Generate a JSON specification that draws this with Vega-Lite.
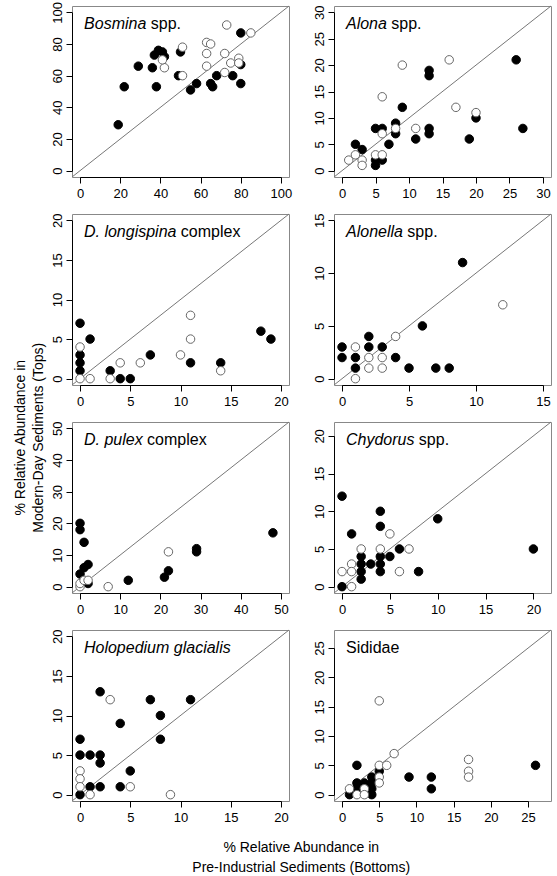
{
  "$schema": "https://vega.github.io/schema/vega-lite/v6.json",
  "padding": {"left": 13, "top": 0, "right": 0, "bottom": 0},
  "title": {"text": ["% Relative Abundance in", "Modern-Day Sediments (Tops)"], "orient": "left", "anchor": "middle", "fontSize": 14, "fontWeight": "normal", "font": "Liberation Sans", "color": "black", "offset": 5, "lineHeight": 18},
  "datasets": {
    "one": [{}],
    "pts": [
      {"panel":"Bosmina","type":"filled","bottoms":19,"tops":29},
      {"panel":"Bosmina","type":"filled","bottoms":22,"tops":53},
      {"panel":"Bosmina","type":"filled","bottoms":29,"tops":66},
      {"panel":"Bosmina","type":"filled","bottoms":36,"tops":65},
      {"panel":"Bosmina","type":"filled","bottoms":37,"tops":73},
      {"panel":"Bosmina","type":"filled","bottoms":39,"tops":76},
      {"panel":"Bosmina","type":"filled","bottoms":41,"tops":75},
      {"panel":"Bosmina","type":"filled","bottoms":42,"tops":72},
      {"panel":"Bosmina","type":"filled","bottoms":38,"tops":53},
      {"panel":"Bosmina","type":"filled","bottoms":50,"tops":75},
      {"panel":"Bosmina","type":"filled","bottoms":49,"tops":60},
      {"panel":"Bosmina","type":"filled","bottoms":55,"tops":51},
      {"panel":"Bosmina","type":"filled","bottoms":58,"tops":55},
      {"panel":"Bosmina","type":"filled","bottoms":65,"tops":55},
      {"panel":"Bosmina","type":"filled","bottoms":66,"tops":53},
      {"panel":"Bosmina","type":"filled","bottoms":68,"tops":60},
      {"panel":"Bosmina","type":"filled","bottoms":76,"tops":60},
      {"panel":"Bosmina","type":"filled","bottoms":80,"tops":55},
      {"panel":"Bosmina","type":"filled","bottoms":80,"tops":87},
      {"panel":"Bosmina","type":"filled","bottoms":80,"tops":67},
      {"panel":"Bosmina","type":"open","bottoms":73,"tops":92},
      {"panel":"Bosmina","type":"open","bottoms":85,"tops":87},
      {"panel":"Bosmina","type":"open","bottoms":51,"tops":78},
      {"panel":"Bosmina","type":"open","bottoms":63,"tops":81},
      {"panel":"Bosmina","type":"open","bottoms":65,"tops":80},
      {"panel":"Bosmina","type":"open","bottoms":63,"tops":74},
      {"panel":"Bosmina","type":"open","bottoms":63,"tops":66},
      {"panel":"Bosmina","type":"open","bottoms":72,"tops":74},
      {"panel":"Bosmina","type":"open","bottoms":75,"tops":68},
      {"panel":"Bosmina","type":"open","bottoms":79,"tops":71},
      {"panel":"Bosmina","type":"open","bottoms":79,"tops":68},
      {"panel":"Bosmina","type":"open","bottoms":72,"tops":62},
      {"panel":"Bosmina","type":"open","bottoms":42,"tops":65},
      {"panel":"Bosmina","type":"open","bottoms":41,"tops":70},
      {"panel":"Bosmina","type":"open","bottoms":51,"tops":60},
      {"panel":"Alona","type":"filled","bottoms":2,"tops":5},
      {"panel":"Alona","type":"filled","bottoms":3,"tops":4},
      {"panel":"Alona","type":"filled","bottoms":5,"tops":8},
      {"panel":"Alona","type":"filled","bottoms":6,"tops":8},
      {"panel":"Alona","type":"filled","bottoms":5,"tops":2},
      {"panel":"Alona","type":"filled","bottoms":5,"tops":1},
      {"panel":"Alona","type":"filled","bottoms":6,"tops":2},
      {"panel":"Alona","type":"filled","bottoms":7,"tops":5},
      {"panel":"Alona","type":"filled","bottoms":8,"tops":9},
      {"panel":"Alona","type":"filled","bottoms":8,"tops":7},
      {"panel":"Alona","type":"filled","bottoms":9,"tops":12},
      {"panel":"Alona","type":"filled","bottoms":11,"tops":6},
      {"panel":"Alona","type":"filled","bottoms":13,"tops":19},
      {"panel":"Alona","type":"filled","bottoms":13,"tops":18},
      {"panel":"Alona","type":"filled","bottoms":13,"tops":8},
      {"panel":"Alona","type":"filled","bottoms":13,"tops":7},
      {"panel":"Alona","type":"filled","bottoms":19,"tops":6},
      {"panel":"Alona","type":"filled","bottoms":20,"tops":10},
      {"panel":"Alona","type":"filled","bottoms":26,"tops":21},
      {"panel":"Alona","type":"filled","bottoms":27,"tops":8},
      {"panel":"Alona","type":"open","bottoms":1,"tops":2},
      {"panel":"Alona","type":"open","bottoms":2,"tops":3},
      {"panel":"Alona","type":"open","bottoms":3,"tops":2},
      {"panel":"Alona","type":"open","bottoms":3,"tops":1},
      {"panel":"Alona","type":"open","bottoms":5,"tops":3},
      {"panel":"Alona","type":"open","bottoms":6,"tops":3},
      {"panel":"Alona","type":"open","bottoms":6,"tops":7},
      {"panel":"Alona","type":"open","bottoms":6,"tops":14},
      {"panel":"Alona","type":"open","bottoms":8,"tops":8},
      {"panel":"Alona","type":"open","bottoms":9,"tops":20},
      {"panel":"Alona","type":"open","bottoms":11,"tops":8},
      {"panel":"Alona","type":"open","bottoms":16,"tops":21},
      {"panel":"Alona","type":"open","bottoms":17,"tops":12},
      {"panel":"Alona","type":"open","bottoms":20,"tops":11},
      {"panel":"Dlongispina","type":"filled","bottoms":0,"tops":7},
      {"panel":"Dlongispina","type":"filled","bottoms":0,"tops":3},
      {"panel":"Dlongispina","type":"filled","bottoms":0,"tops":2},
      {"panel":"Dlongispina","type":"filled","bottoms":0,"tops":1},
      {"panel":"Dlongispina","type":"filled","bottoms":1,"tops":5},
      {"panel":"Dlongispina","type":"filled","bottoms":3,"tops":1},
      {"panel":"Dlongispina","type":"filled","bottoms":4,"tops":0},
      {"panel":"Dlongispina","type":"filled","bottoms":5,"tops":0},
      {"panel":"Dlongispina","type":"filled","bottoms":7,"tops":3},
      {"panel":"Dlongispina","type":"filled","bottoms":11,"tops":2},
      {"panel":"Dlongispina","type":"filled","bottoms":14,"tops":2},
      {"panel":"Dlongispina","type":"filled","bottoms":18,"tops":6},
      {"panel":"Dlongispina","type":"filled","bottoms":19,"tops":5},
      {"panel":"Dlongispina","type":"open","bottoms":0,"tops":4},
      {"panel":"Dlongispina","type":"open","bottoms":0,"tops":0},
      {"panel":"Dlongispina","type":"open","bottoms":1,"tops":0},
      {"panel":"Dlongispina","type":"open","bottoms":3,"tops":0},
      {"panel":"Dlongispina","type":"open","bottoms":4,"tops":2},
      {"panel":"Dlongispina","type":"open","bottoms":6,"tops":2},
      {"panel":"Dlongispina","type":"open","bottoms":10,"tops":3},
      {"panel":"Dlongispina","type":"open","bottoms":11,"tops":5},
      {"panel":"Dlongispina","type":"open","bottoms":11,"tops":8},
      {"panel":"Dlongispina","type":"open","bottoms":14,"tops":1},
      {"panel":"Alonella","type":"filled","bottoms":0,"tops":3},
      {"panel":"Alonella","type":"filled","bottoms":0,"tops":2},
      {"panel":"Alonella","type":"filled","bottoms":1,"tops":2},
      {"panel":"Alonella","type":"filled","bottoms":1,"tops":1},
      {"panel":"Alonella","type":"filled","bottoms":2,"tops":4},
      {"panel":"Alonella","type":"filled","bottoms":2,"tops":3},
      {"panel":"Alonella","type":"filled","bottoms":3,"tops":3},
      {"panel":"Alonella","type":"filled","bottoms":4,"tops":2},
      {"panel":"Alonella","type":"filled","bottoms":5,"tops":1},
      {"panel":"Alonella","type":"filled","bottoms":6,"tops":5},
      {"panel":"Alonella","type":"filled","bottoms":7,"tops":1},
      {"panel":"Alonella","type":"filled","bottoms":8,"tops":1},
      {"panel":"Alonella","type":"filled","bottoms":9,"tops":11},
      {"panel":"Alonella","type":"open","bottoms":1,"tops":3},
      {"panel":"Alonella","type":"open","bottoms":1,"tops":0},
      {"panel":"Alonella","type":"open","bottoms":2,"tops":2},
      {"panel":"Alonella","type":"open","bottoms":2,"tops":1},
      {"panel":"Alonella","type":"open","bottoms":3,"tops":2},
      {"panel":"Alonella","type":"open","bottoms":3,"tops":1},
      {"panel":"Alonella","type":"open","bottoms":4,"tops":4},
      {"panel":"Alonella","type":"open","bottoms":12,"tops":7},
      {"panel":"Dpulex","type":"filled","bottoms":0,"tops":20},
      {"panel":"Dpulex","type":"filled","bottoms":0,"tops":18},
      {"panel":"Dpulex","type":"filled","bottoms":1,"tops":14},
      {"panel":"Dpulex","type":"filled","bottoms":0,"tops":4},
      {"panel":"Dpulex","type":"filled","bottoms":1,"tops":6},
      {"panel":"Dpulex","type":"filled","bottoms":2,"tops":7},
      {"panel":"Dpulex","type":"filled","bottoms":2,"tops":1},
      {"panel":"Dpulex","type":"filled","bottoms":12,"tops":2},
      {"panel":"Dpulex","type":"filled","bottoms":21,"tops":3},
      {"panel":"Dpulex","type":"filled","bottoms":22,"tops":5},
      {"panel":"Dpulex","type":"filled","bottoms":29,"tops":12},
      {"panel":"Dpulex","type":"filled","bottoms":29,"tops":11},
      {"panel":"Dpulex","type":"filled","bottoms":48,"tops":17},
      {"panel":"Dpulex","type":"open","bottoms":0,"tops":0},
      {"panel":"Dpulex","type":"open","bottoms":0,"tops":1},
      {"panel":"Dpulex","type":"open","bottoms":1,"tops":2},
      {"panel":"Dpulex","type":"open","bottoms":2,"tops":2},
      {"panel":"Dpulex","type":"open","bottoms":7,"tops":0},
      {"panel":"Dpulex","type":"open","bottoms":22,"tops":11},
      {"panel":"Chydorus","type":"filled","bottoms":0,"tops":12},
      {"panel":"Chydorus","type":"filled","bottoms":0,"tops":0},
      {"panel":"Chydorus","type":"filled","bottoms":1,"tops":7},
      {"panel":"Chydorus","type":"filled","bottoms":2,"tops":4},
      {"panel":"Chydorus","type":"filled","bottoms":2,"tops":3},
      {"panel":"Chydorus","type":"filled","bottoms":2,"tops":2},
      {"panel":"Chydorus","type":"filled","bottoms":2,"tops":1},
      {"panel":"Chydorus","type":"filled","bottoms":3,"tops":3},
      {"panel":"Chydorus","type":"filled","bottoms":4,"tops":10},
      {"panel":"Chydorus","type":"filled","bottoms":4,"tops":8},
      {"panel":"Chydorus","type":"filled","bottoms":4,"tops":4},
      {"panel":"Chydorus","type":"filled","bottoms":4,"tops":3},
      {"panel":"Chydorus","type":"filled","bottoms":4,"tops":2},
      {"panel":"Chydorus","type":"filled","bottoms":5,"tops":4},
      {"panel":"Chydorus","type":"filled","bottoms":6,"tops":5},
      {"panel":"Chydorus","type":"filled","bottoms":8,"tops":2},
      {"panel":"Chydorus","type":"filled","bottoms":10,"tops":9},
      {"panel":"Chydorus","type":"filled","bottoms":20,"tops":5},
      {"panel":"Chydorus","type":"open","bottoms":0,"tops":2},
      {"panel":"Chydorus","type":"open","bottoms":1,"tops":3},
      {"panel":"Chydorus","type":"open","bottoms":1,"tops":2},
      {"panel":"Chydorus","type":"open","bottoms":1,"tops":0},
      {"panel":"Chydorus","type":"open","bottoms":2,"tops":5},
      {"panel":"Chydorus","type":"open","bottoms":4,"tops":5},
      {"panel":"Chydorus","type":"open","bottoms":5,"tops":7},
      {"panel":"Chydorus","type":"open","bottoms":6,"tops":2},
      {"panel":"Chydorus","type":"open","bottoms":7,"tops":5},
      {"panel":"Holopedium","type":"filled","bottoms":0,"tops":7},
      {"panel":"Holopedium","type":"filled","bottoms":0,"tops":5},
      {"panel":"Holopedium","type":"filled","bottoms":0,"tops":0},
      {"panel":"Holopedium","type":"filled","bottoms":1,"tops":5},
      {"panel":"Holopedium","type":"filled","bottoms":1,"tops":1},
      {"panel":"Holopedium","type":"filled","bottoms":2,"tops":13},
      {"panel":"Holopedium","type":"filled","bottoms":2,"tops":5},
      {"panel":"Holopedium","type":"filled","bottoms":2,"tops":4},
      {"panel":"Holopedium","type":"filled","bottoms":2,"tops":1},
      {"panel":"Holopedium","type":"filled","bottoms":4,"tops":9},
      {"panel":"Holopedium","type":"filled","bottoms":4,"tops":1},
      {"panel":"Holopedium","type":"filled","bottoms":5,"tops":3},
      {"panel":"Holopedium","type":"filled","bottoms":7,"tops":12},
      {"panel":"Holopedium","type":"filled","bottoms":8,"tops":10},
      {"panel":"Holopedium","type":"filled","bottoms":8,"tops":7},
      {"panel":"Holopedium","type":"filled","bottoms":11,"tops":12},
      {"panel":"Holopedium","type":"open","bottoms":3,"tops":12},
      {"panel":"Holopedium","type":"open","bottoms":0,"tops":3},
      {"panel":"Holopedium","type":"open","bottoms":0,"tops":2},
      {"panel":"Holopedium","type":"open","bottoms":0,"tops":1},
      {"panel":"Holopedium","type":"open","bottoms":1,"tops":0},
      {"panel":"Holopedium","type":"open","bottoms":5,"tops":1},
      {"panel":"Holopedium","type":"open","bottoms":9,"tops":0},
      {"panel":"Sididae","type":"filled","bottoms":1,"tops":0},
      {"panel":"Sididae","type":"filled","bottoms":2,"tops":5},
      {"panel":"Sididae","type":"filled","bottoms":2,"tops":2},
      {"panel":"Sididae","type":"filled","bottoms":2,"tops":1},
      {"panel":"Sididae","type":"filled","bottoms":3,"tops":2},
      {"panel":"Sididae","type":"filled","bottoms":4,"tops":3},
      {"panel":"Sididae","type":"filled","bottoms":4,"tops":2},
      {"panel":"Sididae","type":"filled","bottoms":4,"tops":1},
      {"panel":"Sididae","type":"filled","bottoms":4,"tops":0},
      {"panel":"Sididae","type":"filled","bottoms":5,"tops":4},
      {"panel":"Sididae","type":"filled","bottoms":9,"tops":3},
      {"panel":"Sididae","type":"filled","bottoms":12,"tops":3},
      {"panel":"Sididae","type":"filled","bottoms":12,"tops":1},
      {"panel":"Sididae","type":"filled","bottoms":26,"tops":5},
      {"panel":"Sididae","type":"open","bottoms":1,"tops":1},
      {"panel":"Sididae","type":"open","bottoms":2,"tops":0},
      {"panel":"Sididae","type":"open","bottoms":3,"tops":1},
      {"panel":"Sididae","type":"open","bottoms":3,"tops":0},
      {"panel":"Sididae","type":"open","bottoms":5,"tops":5},
      {"panel":"Sididae","type":"open","bottoms":5,"tops":3},
      {"panel":"Sididae","type":"open","bottoms":5,"tops":2},
      {"panel":"Sididae","type":"open","bottoms":5,"tops":16},
      {"panel":"Sididae","type":"open","bottoms":6,"tops":5},
      {"panel":"Sididae","type":"open","bottoms":7,"tops":7},
      {"panel":"Sididae","type":"open","bottoms":17,"tops":6},
      {"panel":"Sididae","type":"open","bottoms":17,"tops":4},
      {"panel":"Sididae","type":"open","bottoms":17,"tops":3}
    ]
  },
  "vconcat": [
    {
      "title": {"text": ["% Relative Abundance in", "Pre-Industrial Sediments (Bottoms)"], "orient": "bottom", "anchor": "middle", "fontSize": 14, "fontWeight": "normal", "font": "Liberation Sans", "color": "black", "offset": 16, "lineHeight": 20},
      "columns": 2,
      "spacing": {"row": 37, "column": 45},
      "bounds": "flush",
      "concat": [
        {
          "width": 217, "height": 171,
          "layer": [
            {"data": {"name": "one"}, "mark": {"type": "rule", "color": "#777777", "strokeWidth": 1},
             "encoding": {
               "x": {"datum": -4, "type": "quantitative", "scale": {"domain": [-4, 104], "nice": false, "zero": false}, "axis": {"title": null, "values": [0,20,40,60,80,100], "labelOverlap": false, "labelPadding": 4, "domainDash": [200.9, 1000], "domainDashOffset": 1192.9}},
               "y": {"datum": -4, "type": "quantitative", "scale": {"domain": [-4, 104], "nice": false, "zero": false}, "axis": {"title": null, "values": [0,20,40,60,80,100], "labelAngle": -90, "labelAlign": "center", "labelBaseline": "bottom", "labelOverlap": false, "labelPadding": 2, "domainDash": [158.3, 1000], "domainDashOffset": 1152.0}},
               "x2": {"datum": 104}, "y2": {"datum": 104}}},
            {"data": {"name": "pts"}, "transform": [{"filter": "datum.panel === 'Bosmina' && datum.type === 'filled'"}],
             "mark": {"type": "circle", "size": 72, "fill": "black", "stroke": "black", "strokeWidth": 1, "opacity": 1},
             "encoding": {
               "x": {"field": "bottoms", "type": "quantitative", "scale": {"domain": [-4, 104], "nice": false, "zero": false}, "axis": {"title": null, "values": [0,20,40,60,80,100], "labelOverlap": false, "labelPadding": 4, "domainDash": [200.9, 1000], "domainDashOffset": 1192.9}},
               "y": {"field": "tops", "type": "quantitative", "scale": {"domain": [-4, 104], "nice": false, "zero": false}, "axis": {"title": null, "values": [0,20,40,60,80,100], "labelAngle": -90, "labelAlign": "center", "labelBaseline": "bottom", "labelOverlap": false, "labelPadding": 2, "domainDash": [158.3, 1000], "domainDashOffset": 1152.0}}}},
            {"data": {"name": "pts"}, "transform": [{"filter": "datum.panel === 'Bosmina' && datum.type === 'open'"}],
             "mark": {"type": "circle", "size": 72, "fill": "white", "stroke": "#666666", "strokeWidth": 1, "opacity": 1},
             "encoding": {
               "x": {"field": "bottoms", "type": "quantitative", "scale": {"domain": [-4, 104], "nice": false, "zero": false}, "axis": {"title": null, "values": [0,20,40,60,80,100], "labelOverlap": false, "labelPadding": 4, "domainDash": [200.9, 1000], "domainDashOffset": 1192.9}},
               "y": {"field": "tops", "type": "quantitative", "scale": {"domain": [-4, 104], "nice": false, "zero": false}, "axis": {"title": null, "values": [0,20,40,60,80,100], "labelAngle": -90, "labelAlign": "center", "labelBaseline": "bottom", "labelOverlap": false, "labelPadding": 2, "domainDash": [158.3, 1000], "domainDashOffset": 1152.0}}}},
            {"data": {"name": "one"}, "mark": {"type": "text", "text": "Bosmina", "fontStyle": "italic", "fontSize": 16, "align": "left", "baseline": "alphabetic", "font": "Liberation Sans", "color": "black"},
             "encoding": {
               "x": {"datum": 2, "type": "quantitative", "scale": {"domain": [-4, 104], "nice": false, "zero": false}, "axis": {"title": null, "values": [0,20,40,60,80,100], "labelOverlap": false, "labelPadding": 4, "domainDash": [200.9, 1000], "domainDashOffset": 1192.9}},
               "y": {"datum": 89.5, "type": "quantitative", "scale": {"domain": [-4, 104], "nice": false, "zero": false}, "axis": {"title": null, "values": [0,20,40,60,80,100], "labelAngle": -90, "labelAlign": "center", "labelBaseline": "bottom", "labelOverlap": false, "labelPadding": 2, "domainDash": [158.3, 1000], "domainDashOffset": 1152.0}}}},
            {"data": {"name": "one"}, "mark": {"type": "text", "text": "spp.", "fontSize": 16, "align": "left", "baseline": "alphabetic", "font": "Liberation Sans", "color": "black", "dx": 66.7},
             "encoding": {
               "x": {"datum": 2, "type": "quantitative", "scale": {"domain": [-4, 104], "nice": false, "zero": false}, "axis": {"title": null, "values": [0,20,40,60,80,100], "labelOverlap": false, "labelPadding": 4, "domainDash": [200.9, 1000], "domainDashOffset": 1192.9}},
               "y": {"datum": 89.5, "type": "quantitative", "scale": {"domain": [-4, 104], "nice": false, "zero": false}, "axis": {"title": null, "values": [0,20,40,60,80,100], "labelAngle": -90, "labelAlign": "center", "labelBaseline": "bottom", "labelOverlap": false, "labelPadding": 2, "domainDash": [158.3, 1000], "domainDashOffset": 1152.0}}}}
          ]
        },
        {
          "width": 217, "height": 171,
          "layer": [
            {"data": {"name": "one"}, "mark": {"type": "rule", "color": "#777777", "strokeWidth": 1},
             "encoding": {
               "x": {"datum": -1.2, "type": "quantitative", "scale": {"domain": [-1.2, 31.2], "nice": false, "zero": false}, "axis": {"title": null, "values": [0,5,10,15,20,25,30], "labelOverlap": false, "labelPadding": 4, "domainDash": [200.9, 1000], "domainDashOffset": 1192.9}},
               "y": {"datum": -1.2, "type": "quantitative", "scale": {"domain": [-1.2, 31.2], "nice": false, "zero": false}, "axis": {"title": null, "values": [0,5,10,15,20,25,30], "labelAngle": -90, "labelAlign": "center", "labelBaseline": "bottom", "labelOverlap": false, "labelPadding": 2, "domainDash": [158.3, 1000], "domainDashOffset": 1152.0}},
               "x2": {"datum": 31.2}, "y2": {"datum": 31.2}}},
            {"data": {"name": "pts"}, "transform": [{"filter": "datum.panel === 'Alona' && datum.type === 'filled'"}],
             "mark": {"type": "circle", "size": 72, "fill": "black", "stroke": "black", "strokeWidth": 1, "opacity": 1},
             "encoding": {
               "x": {"field": "bottoms", "type": "quantitative", "scale": {"domain": [-1.2, 31.2], "nice": false, "zero": false}, "axis": {"title": null, "values": [0,5,10,15,20,25,30], "labelOverlap": false, "labelPadding": 4, "domainDash": [200.9, 1000], "domainDashOffset": 1192.9}},
               "y": {"field": "tops", "type": "quantitative", "scale": {"domain": [-1.2, 31.2], "nice": false, "zero": false}, "axis": {"title": null, "values": [0,5,10,15,20,25,30], "labelAngle": -90, "labelAlign": "center", "labelBaseline": "bottom", "labelOverlap": false, "labelPadding": 2, "domainDash": [158.3, 1000], "domainDashOffset": 1152.0}}}},
            {"data": {"name": "pts"}, "transform": [{"filter": "datum.panel === 'Alona' && datum.type === 'open'"}],
             "mark": {"type": "circle", "size": 72, "fill": "white", "stroke": "#666666", "strokeWidth": 1, "opacity": 1},
             "encoding": {
               "x": {"field": "bottoms", "type": "quantitative", "scale": {"domain": [-1.2, 31.2], "nice": false, "zero": false}, "axis": {"title": null, "values": [0,5,10,15,20,25,30], "labelOverlap": false, "labelPadding": 4, "domainDash": [200.9, 1000], "domainDashOffset": 1192.9}},
               "y": {"field": "tops", "type": "quantitative", "scale": {"domain": [-1.2, 31.2], "nice": false, "zero": false}, "axis": {"title": null, "values": [0,5,10,15,20,25,30], "labelAngle": -90, "labelAlign": "center", "labelBaseline": "bottom", "labelOverlap": false, "labelPadding": 2, "domainDash": [158.3, 1000], "domainDashOffset": 1152.0}}}},
            {"data": {"name": "one"}, "mark": {"type": "text", "text": "Alona", "fontStyle": "italic", "fontSize": 16, "align": "left", "baseline": "alphabetic", "font": "Liberation Sans", "color": "black"},
             "encoding": {
               "x": {"datum": 0.59, "type": "quantitative", "scale": {"domain": [-1.2, 31.2], "nice": false, "zero": false}, "axis": {"title": null, "values": [0,5,10,15,20,25,30], "labelOverlap": false, "labelPadding": 4, "domainDash": [200.9, 1000], "domainDashOffset": 1192.9}},
               "y": {"datum": 26.84, "type": "quantitative", "scale": {"domain": [-1.2, 31.2], "nice": false, "zero": false}, "axis": {"title": null, "values": [0,5,10,15,20,25,30], "labelAngle": -90, "labelAlign": "center", "labelBaseline": "bottom", "labelOverlap": false, "labelPadding": 2, "domainDash": [158.3, 1000], "domainDashOffset": 1152.0}}}},
            {"data": {"name": "one"}, "mark": {"type": "text", "text": "spp.", "fontSize": 16, "align": "left", "baseline": "alphabetic", "font": "Liberation Sans", "color": "black", "dx": 45.3},
             "encoding": {
               "x": {"datum": 0.59, "type": "quantitative", "scale": {"domain": [-1.2, 31.2], "nice": false, "zero": false}, "axis": {"title": null, "values": [0,5,10,15,20,25,30], "labelOverlap": false, "labelPadding": 4, "domainDash": [200.9, 1000], "domainDashOffset": 1192.9}},
               "y": {"datum": 26.84, "type": "quantitative", "scale": {"domain": [-1.2, 31.2], "nice": false, "zero": false}, "axis": {"title": null, "values": [0,5,10,15,20,25,30], "labelAngle": -90, "labelAlign": "center", "labelBaseline": "bottom", "labelOverlap": false, "labelPadding": 2, "domainDash": [158.3, 1000], "domainDashOffset": 1152.0}}}}
          ]
        },
        {
          "width": 217, "height": 171,
          "layer": [
            {"data": {"name": "one"}, "mark": {"type": "rule", "color": "#777777", "strokeWidth": 1},
             "encoding": {
               "x": {"datum": -0.8, "type": "quantitative", "scale": {"domain": [-0.8, 20.8], "nice": false, "zero": false}, "axis": {"title": null, "values": [0,5,10,15,20], "labelOverlap": false, "labelPadding": 4, "domainDash": [200.9, 1000], "domainDashOffset": 1192.9}},
               "y": {"datum": -0.8, "type": "quantitative", "scale": {"domain": [-0.8, 20.8], "nice": false, "zero": false}, "axis": {"title": null, "values": [0,5,10,15,20], "labelAngle": -90, "labelAlign": "center", "labelBaseline": "bottom", "labelOverlap": false, "labelPadding": 2, "domainDash": [158.3, 1000], "domainDashOffset": 1152.0}},
               "x2": {"datum": 20.8}, "y2": {"datum": 20.8}}},
            {"data": {"name": "pts"}, "transform": [{"filter": "datum.panel === 'Dlongispina' && datum.type === 'filled'"}],
             "mark": {"type": "circle", "size": 72, "fill": "black", "stroke": "black", "strokeWidth": 1, "opacity": 1},
             "encoding": {
               "x": {"field": "bottoms", "type": "quantitative", "scale": {"domain": [-0.8, 20.8], "nice": false, "zero": false}, "axis": {"title": null, "values": [0,5,10,15,20], "labelOverlap": false, "labelPadding": 4, "domainDash": [200.9, 1000], "domainDashOffset": 1192.9}},
               "y": {"field": "tops", "type": "quantitative", "scale": {"domain": [-0.8, 20.8], "nice": false, "zero": false}, "axis": {"title": null, "values": [0,5,10,15,20], "labelAngle": -90, "labelAlign": "center", "labelBaseline": "bottom", "labelOverlap": false, "labelPadding": 2, "domainDash": [158.3, 1000], "domainDashOffset": 1152.0}}}},
            {"data": {"name": "pts"}, "transform": [{"filter": "datum.panel === 'Dlongispina' && datum.type === 'open'"}],
             "mark": {"type": "circle", "size": 72, "fill": "white", "stroke": "#666666", "strokeWidth": 1, "opacity": 1},
             "encoding": {
               "x": {"field": "bottoms", "type": "quantitative", "scale": {"domain": [-0.8, 20.8], "nice": false, "zero": false}, "axis": {"title": null, "values": [0,5,10,15,20], "labelOverlap": false, "labelPadding": 4, "domainDash": [200.9, 1000], "domainDashOffset": 1192.9}},
               "y": {"field": "tops", "type": "quantitative", "scale": {"domain": [-0.8, 20.8], "nice": false, "zero": false}, "axis": {"title": null, "values": [0,5,10,15,20], "labelAngle": -90, "labelAlign": "center", "labelBaseline": "bottom", "labelOverlap": false, "labelPadding": 2, "domainDash": [158.3, 1000], "domainDashOffset": 1152.0}}}},
            {"data": {"name": "one"}, "mark": {"type": "text", "text": "D. longispina", "fontStyle": "italic", "fontSize": 16, "align": "left", "baseline": "alphabetic", "font": "Liberation Sans", "color": "black"},
             "encoding": {
               "x": {"datum": 0.39, "type": "quantitative", "scale": {"domain": [-0.8, 20.8], "nice": false, "zero": false}, "axis": {"title": null, "values": [0,5,10,15,20], "labelOverlap": false, "labelPadding": 4, "domainDash": [200.9, 1000], "domainDashOffset": 1192.9}},
               "y": {"datum": 17.89, "type": "quantitative", "scale": {"domain": [-0.8, 20.8], "nice": false, "zero": false}, "axis": {"title": null, "values": [0,5,10,15,20], "labelAngle": -90, "labelAlign": "center", "labelBaseline": "bottom", "labelOverlap": false, "labelPadding": 2, "domainDash": [158.3, 1000], "domainDashOffset": 1152.0}}}},
            {"data": {"name": "one"}, "mark": {"type": "text", "text": "complex", "fontSize": 16, "align": "left", "baseline": "alphabetic", "font": "Liberation Sans", "color": "black", "dx": 96.9},
             "encoding": {
               "x": {"datum": 0.39, "type": "quantitative", "scale": {"domain": [-0.8, 20.8], "nice": false, "zero": false}, "axis": {"title": null, "values": [0,5,10,15,20], "labelOverlap": false, "labelPadding": 4, "domainDash": [200.9, 1000], "domainDashOffset": 1192.9}},
               "y": {"datum": 17.89, "type": "quantitative", "scale": {"domain": [-0.8, 20.8], "nice": false, "zero": false}, "axis": {"title": null, "values": [0,5,10,15,20], "labelAngle": -90, "labelAlign": "center", "labelBaseline": "bottom", "labelOverlap": false, "labelPadding": 2, "domainDash": [158.3, 1000], "domainDashOffset": 1152.0}}}}
          ]
        },
        {
          "width": 217, "height": 171,
          "layer": [
            {"data": {"name": "one"}, "mark": {"type": "rule", "color": "#777777", "strokeWidth": 1},
             "encoding": {
               "x": {"datum": -0.6, "type": "quantitative", "scale": {"domain": [-0.6, 15.6], "nice": false, "zero": false}, "axis": {"title": null, "values": [0,5,10,15], "labelOverlap": false, "labelPadding": 4, "domainDash": [200.9, 1000], "domainDashOffset": 1192.9}},
               "y": {"datum": -0.6, "type": "quantitative", "scale": {"domain": [-0.6, 15.6], "nice": false, "zero": false}, "axis": {"title": null, "values": [0,5,10,15], "labelAngle": -90, "labelAlign": "center", "labelBaseline": "bottom", "labelOverlap": false, "labelPadding": 2, "domainDash": [158.3, 1000], "domainDashOffset": 1152.0}},
               "x2": {"datum": 15.6}, "y2": {"datum": 15.6}}},
            {"data": {"name": "pts"}, "transform": [{"filter": "datum.panel === 'Alonella' && datum.type === 'filled'"}],
             "mark": {"type": "circle", "size": 72, "fill": "black", "stroke": "black", "strokeWidth": 1, "opacity": 1},
             "encoding": {
               "x": {"field": "bottoms", "type": "quantitative", "scale": {"domain": [-0.6, 15.6], "nice": false, "zero": false}, "axis": {"title": null, "values": [0,5,10,15], "labelOverlap": false, "labelPadding": 4, "domainDash": [200.9, 1000], "domainDashOffset": 1192.9}},
               "y": {"field": "tops", "type": "quantitative", "scale": {"domain": [-0.6, 15.6], "nice": false, "zero": false}, "axis": {"title": null, "values": [0,5,10,15], "labelAngle": -90, "labelAlign": "center", "labelBaseline": "bottom", "labelOverlap": false, "labelPadding": 2, "domainDash": [158.3, 1000], "domainDashOffset": 1152.0}}}},
            {"data": {"name": "pts"}, "transform": [{"filter": "datum.panel === 'Alonella' && datum.type === 'open'"}],
             "mark": {"type": "circle", "size": 72, "fill": "white", "stroke": "#666666", "strokeWidth": 1, "opacity": 1},
             "encoding": {
               "x": {"field": "bottoms", "type": "quantitative", "scale": {"domain": [-0.6, 15.6], "nice": false, "zero": false}, "axis": {"title": null, "values": [0,5,10,15], "labelOverlap": false, "labelPadding": 4, "domainDash": [200.9, 1000], "domainDashOffset": 1192.9}},
               "y": {"field": "tops", "type": "quantitative", "scale": {"domain": [-0.6, 15.6], "nice": false, "zero": false}, "axis": {"title": null, "values": [0,5,10,15], "labelAngle": -90, "labelAlign": "center", "labelBaseline": "bottom", "labelOverlap": false, "labelPadding": 2, "domainDash": [158.3, 1000], "domainDashOffset": 1152.0}}}},
            {"data": {"name": "one"}, "mark": {"type": "text", "text": "Alonella", "fontStyle": "italic", "fontSize": 16, "align": "left", "baseline": "alphabetic", "font": "Liberation Sans", "color": "black"},
             "encoding": {
               "x": {"datum": 0.3, "type": "quantitative", "scale": {"domain": [-0.6, 15.6], "nice": false, "zero": false}, "axis": {"title": null, "values": [0,5,10,15], "labelOverlap": false, "labelPadding": 4, "domainDash": [200.9, 1000], "domainDashOffset": 1192.9}},
               "y": {"datum": 13.42, "type": "quantitative", "scale": {"domain": [-0.6, 15.6], "nice": false, "zero": false}, "axis": {"title": null, "values": [0,5,10,15], "labelAngle": -90, "labelAlign": "center", "labelBaseline": "bottom", "labelOverlap": false, "labelPadding": 2, "domainDash": [158.3, 1000], "domainDashOffset": 1152.0}}}},
            {"data": {"name": "one"}, "mark": {"type": "text", "text": "spp.", "fontSize": 16, "align": "left", "baseline": "alphabetic", "font": "Liberation Sans", "color": "black", "dx": 61.3},
             "encoding": {
               "x": {"datum": 0.3, "type": "quantitative", "scale": {"domain": [-0.6, 15.6], "nice": false, "zero": false}, "axis": {"title": null, "values": [0,5,10,15], "labelOverlap": false, "labelPadding": 4, "domainDash": [200.9, 1000], "domainDashOffset": 1192.9}},
               "y": {"datum": 13.42, "type": "quantitative", "scale": {"domain": [-0.6, 15.6], "nice": false, "zero": false}, "axis": {"title": null, "values": [0,5,10,15], "labelAngle": -90, "labelAlign": "center", "labelBaseline": "bottom", "labelOverlap": false, "labelPadding": 2, "domainDash": [158.3, 1000], "domainDashOffset": 1152.0}}}}
          ]
        },
        {
          "width": 217, "height": 171,
          "layer": [
            {"data": {"name": "one"}, "mark": {"type": "rule", "color": "#777777", "strokeWidth": 1},
             "encoding": {
               "x": {"datum": -2, "type": "quantitative", "scale": {"domain": [-2, 52], "nice": false, "zero": false}, "axis": {"title": null, "values": [0,10,20,30,40,50], "labelOverlap": false, "labelPadding": 4, "domainDash": [200.9, 1000], "domainDashOffset": 1192.9}},
               "y": {"datum": -2, "type": "quantitative", "scale": {"domain": [-2, 52], "nice": false, "zero": false}, "axis": {"title": null, "values": [0,10,20,30,40,50], "labelAngle": -90, "labelAlign": "center", "labelBaseline": "bottom", "labelOverlap": false, "labelPadding": 2, "domainDash": [158.3, 1000], "domainDashOffset": 1152.0}},
               "x2": {"datum": 52}, "y2": {"datum": 52}}},
            {"data": {"name": "pts"}, "transform": [{"filter": "datum.panel === 'Dpulex' && datum.type === 'filled'"}],
             "mark": {"type": "circle", "size": 72, "fill": "black", "stroke": "black", "strokeWidth": 1, "opacity": 1},
             "encoding": {
               "x": {"field": "bottoms", "type": "quantitative", "scale": {"domain": [-2, 52], "nice": false, "zero": false}, "axis": {"title": null, "values": [0,10,20,30,40,50], "labelOverlap": false, "labelPadding": 4, "domainDash": [200.9, 1000], "domainDashOffset": 1192.9}},
               "y": {"field": "tops", "type": "quantitative", "scale": {"domain": [-2, 52], "nice": false, "zero": false}, "axis": {"title": null, "values": [0,10,20,30,40,50], "labelAngle": -90, "labelAlign": "center", "labelBaseline": "bottom", "labelOverlap": false, "labelPadding": 2, "domainDash": [158.3, 1000], "domainDashOffset": 1152.0}}}},
            {"data": {"name": "pts"}, "transform": [{"filter": "datum.panel === 'Dpulex' && datum.type === 'open'"}],
             "mark": {"type": "circle", "size": 72, "fill": "white", "stroke": "#666666", "strokeWidth": 1, "opacity": 1},
             "encoding": {
               "x": {"field": "bottoms", "type": "quantitative", "scale": {"domain": [-2, 52], "nice": false, "zero": false}, "axis": {"title": null, "values": [0,10,20,30,40,50], "labelOverlap": false, "labelPadding": 4, "domainDash": [200.9, 1000], "domainDashOffset": 1192.9}},
               "y": {"field": "tops", "type": "quantitative", "scale": {"domain": [-2, 52], "nice": false, "zero": false}, "axis": {"title": null, "values": [0,10,20,30,40,50], "labelAngle": -90, "labelAlign": "center", "labelBaseline": "bottom", "labelOverlap": false, "labelPadding": 2, "domainDash": [158.3, 1000], "domainDashOffset": 1152.0}}}},
            {"data": {"name": "one"}, "mark": {"type": "text", "text": "D. pulex", "fontStyle": "italic", "fontSize": 16, "align": "left", "baseline": "alphabetic", "font": "Liberation Sans", "color": "black"},
             "encoding": {
               "x": {"datum": 0.99, "type": "quantitative", "scale": {"domain": [-2, 52], "nice": false, "zero": false}, "axis": {"title": null, "values": [0,10,20,30,40,50], "labelOverlap": false, "labelPadding": 4, "domainDash": [200.9, 1000], "domainDashOffset": 1192.9}},
               "y": {"datum": 44.74, "type": "quantitative", "scale": {"domain": [-2, 52], "nice": false, "zero": false}, "axis": {"title": null, "values": [0,10,20,30,40,50], "labelAngle": -90, "labelAlign": "center", "labelBaseline": "bottom", "labelOverlap": false, "labelPadding": 2, "domainDash": [158.3, 1000], "domainDashOffset": 1152.0}}}},
            {"data": {"name": "one"}, "mark": {"type": "text", "text": "complex", "fontSize": 16, "align": "left", "baseline": "alphabetic", "font": "Liberation Sans", "color": "black", "dx": 63.1},
             "encoding": {
               "x": {"datum": 0.99, "type": "quantitative", "scale": {"domain": [-2, 52], "nice": false, "zero": false}, "axis": {"title": null, "values": [0,10,20,30,40,50], "labelOverlap": false, "labelPadding": 4, "domainDash": [200.9, 1000], "domainDashOffset": 1192.9}},
               "y": {"datum": 44.74, "type": "quantitative", "scale": {"domain": [-2, 52], "nice": false, "zero": false}, "axis": {"title": null, "values": [0,10,20,30,40,50], "labelAngle": -90, "labelAlign": "center", "labelBaseline": "bottom", "labelOverlap": false, "labelPadding": 2, "domainDash": [158.3, 1000], "domainDashOffset": 1152.0}}}}
          ]
        },
        {
          "width": 217, "height": 171,
          "layer": [
            {"data": {"name": "one"}, "mark": {"type": "rule", "color": "#777777", "strokeWidth": 1},
             "encoding": {
               "x": {"datum": -0.84, "type": "quantitative", "scale": {"domain": [-0.84, 21.84], "nice": false, "zero": false}, "axis": {"title": null, "values": [0,5,10,15,20], "labelOverlap": false, "labelPadding": 4, "domainDash": [191.4, 1000], "domainDashOffset": 1183.4}},
               "y": {"datum": -0.84, "type": "quantitative", "scale": {"domain": [-0.84, 21.84], "nice": false, "zero": false}, "axis": {"title": null, "values": [0,5,10,15,20], "labelAngle": -90, "labelAlign": "center", "labelBaseline": "bottom", "labelOverlap": false, "labelPadding": 2, "domainDash": [150.8, 1000], "domainDashOffset": 1144.5}},
               "x2": {"datum": 21.84}, "y2": {"datum": 21.84}}},
            {"data": {"name": "pts"}, "transform": [{"filter": "datum.panel === 'Chydorus' && datum.type === 'filled'"}],
             "mark": {"type": "circle", "size": 72, "fill": "black", "stroke": "black", "strokeWidth": 1, "opacity": 1},
             "encoding": {
               "x": {"field": "bottoms", "type": "quantitative", "scale": {"domain": [-0.84, 21.84], "nice": false, "zero": false}, "axis": {"title": null, "values": [0,5,10,15,20], "labelOverlap": false, "labelPadding": 4, "domainDash": [191.4, 1000], "domainDashOffset": 1183.4}},
               "y": {"field": "tops", "type": "quantitative", "scale": {"domain": [-0.84, 21.84], "nice": false, "zero": false}, "axis": {"title": null, "values": [0,5,10,15,20], "labelAngle": -90, "labelAlign": "center", "labelBaseline": "bottom", "labelOverlap": false, "labelPadding": 2, "domainDash": [150.8, 1000], "domainDashOffset": 1144.5}}}},
            {"data": {"name": "pts"}, "transform": [{"filter": "datum.panel === 'Chydorus' && datum.type === 'open'"}],
             "mark": {"type": "circle", "size": 72, "fill": "white", "stroke": "#666666", "strokeWidth": 1, "opacity": 1},
             "encoding": {
               "x": {"field": "bottoms", "type": "quantitative", "scale": {"domain": [-0.84, 21.84], "nice": false, "zero": false}, "axis": {"title": null, "values": [0,5,10,15,20], "labelOverlap": false, "labelPadding": 4, "domainDash": [191.4, 1000], "domainDashOffset": 1183.4}},
               "y": {"field": "tops", "type": "quantitative", "scale": {"domain": [-0.84, 21.84], "nice": false, "zero": false}, "axis": {"title": null, "values": [0,5,10,15,20], "labelAngle": -90, "labelAlign": "center", "labelBaseline": "bottom", "labelOverlap": false, "labelPadding": 2, "domainDash": [150.8, 1000], "domainDashOffset": 1144.5}}}},
            {"data": {"name": "one"}, "mark": {"type": "text", "text": "Chydorus", "fontStyle": "italic", "fontSize": 16, "align": "left", "baseline": "alphabetic", "font": "Liberation Sans", "color": "black"},
             "encoding": {
               "x": {"datum": 0.41, "type": "quantitative", "scale": {"domain": [-0.84, 21.84], "nice": false, "zero": false}, "axis": {"title": null, "values": [0,5,10,15,20], "labelOverlap": false, "labelPadding": 4, "domainDash": [191.4, 1000], "domainDashOffset": 1183.4}},
               "y": {"datum": 18.79, "type": "quantitative", "scale": {"domain": [-0.84, 21.84], "nice": false, "zero": false}, "axis": {"title": null, "values": [0,5,10,15,20], "labelAngle": -90, "labelAlign": "center", "labelBaseline": "bottom", "labelOverlap": false, "labelPadding": 2, "domainDash": [150.8, 1000], "domainDashOffset": 1144.5}}}},
            {"data": {"name": "one"}, "mark": {"type": "text", "text": "spp.", "fontSize": 16, "align": "left", "baseline": "alphabetic", "font": "Liberation Sans", "color": "black", "dx": 72.9},
             "encoding": {
               "x": {"datum": 0.41, "type": "quantitative", "scale": {"domain": [-0.84, 21.84], "nice": false, "zero": false}, "axis": {"title": null, "values": [0,5,10,15,20], "labelOverlap": false, "labelPadding": 4, "domainDash": [191.4, 1000], "domainDashOffset": 1183.4}},
               "y": {"datum": 18.79, "type": "quantitative", "scale": {"domain": [-0.84, 21.84], "nice": false, "zero": false}, "axis": {"title": null, "values": [0,5,10,15,20], "labelAngle": -90, "labelAlign": "center", "labelBaseline": "bottom", "labelOverlap": false, "labelPadding": 2, "domainDash": [150.8, 1000], "domainDashOffset": 1144.5}}}}
          ]
        },
        {
          "width": 217, "height": 171,
          "layer": [
            {"data": {"name": "one"}, "mark": {"type": "rule", "color": "#777777", "strokeWidth": 1},
             "encoding": {
               "x": {"datum": -0.8, "type": "quantitative", "scale": {"domain": [-0.8, 20.8], "nice": false, "zero": false}, "axis": {"title": null, "values": [0,5,10,15,20], "labelOverlap": false, "labelPadding": 4, "domainDash": [200.9, 1000], "domainDashOffset": 1192.9}},
               "y": {"datum": -0.8, "type": "quantitative", "scale": {"domain": [-0.8, 20.8], "nice": false, "zero": false}, "axis": {"title": null, "values": [0,5,10,15,20], "labelAngle": -90, "labelAlign": "center", "labelBaseline": "bottom", "labelOverlap": false, "labelPadding": 2, "domainDash": [158.3, 1000], "domainDashOffset": 1152.0}},
               "x2": {"datum": 20.8}, "y2": {"datum": 20.8}}},
            {"data": {"name": "pts"}, "transform": [{"filter": "datum.panel === 'Holopedium' && datum.type === 'filled'"}],
             "mark": {"type": "circle", "size": 72, "fill": "black", "stroke": "black", "strokeWidth": 1, "opacity": 1},
             "encoding": {
               "x": {"field": "bottoms", "type": "quantitative", "scale": {"domain": [-0.8, 20.8], "nice": false, "zero": false}, "axis": {"title": null, "values": [0,5,10,15,20], "labelOverlap": false, "labelPadding": 4, "domainDash": [200.9, 1000], "domainDashOffset": 1192.9}},
               "y": {"field": "tops", "type": "quantitative", "scale": {"domain": [-0.8, 20.8], "nice": false, "zero": false}, "axis": {"title": null, "values": [0,5,10,15,20], "labelAngle": -90, "labelAlign": "center", "labelBaseline": "bottom", "labelOverlap": false, "labelPadding": 2, "domainDash": [158.3, 1000], "domainDashOffset": 1152.0}}}},
            {"data": {"name": "pts"}, "transform": [{"filter": "datum.panel === 'Holopedium' && datum.type === 'open'"}],
             "mark": {"type": "circle", "size": 72, "fill": "white", "stroke": "#666666", "strokeWidth": 1, "opacity": 1},
             "encoding": {
               "x": {"field": "bottoms", "type": "quantitative", "scale": {"domain": [-0.8, 20.8], "nice": false, "zero": false}, "axis": {"title": null, "values": [0,5,10,15,20], "labelOverlap": false, "labelPadding": 4, "domainDash": [200.9, 1000], "domainDashOffset": 1192.9}},
               "y": {"field": "tops", "type": "quantitative", "scale": {"domain": [-0.8, 20.8], "nice": false, "zero": false}, "axis": {"title": null, "values": [0,5,10,15,20], "labelAngle": -90, "labelAlign": "center", "labelBaseline": "bottom", "labelOverlap": false, "labelPadding": 2, "domainDash": [158.3, 1000], "domainDashOffset": 1152.0}}}},
            {"data": {"name": "one"}, "mark": {"type": "text", "text": "Holopedium glacialis", "fontStyle": "italic", "fontSize": 16, "align": "left", "baseline": "alphabetic", "font": "Liberation Sans", "color": "black"},
             "encoding": {
               "x": {"datum": 0.39, "type": "quantitative", "scale": {"domain": [-0.8, 20.8], "nice": false, "zero": false}, "axis": {"title": null, "values": [0,5,10,15,20], "labelOverlap": false, "labelPadding": 4, "domainDash": [200.9, 1000], "domainDashOffset": 1192.9}},
               "y": {"datum": 17.89, "type": "quantitative", "scale": {"domain": [-0.8, 20.8], "nice": false, "zero": false}, "axis": {"title": null, "values": [0,5,10,15,20], "labelAngle": -90, "labelAlign": "center", "labelBaseline": "bottom", "labelOverlap": false, "labelPadding": 2, "domainDash": [158.3, 1000], "domainDashOffset": 1152.0}}}}
          ]
        },
        {
          "width": 217, "height": 171,
          "layer": [
            {"data": {"name": "one"}, "mark": {"type": "rule", "color": "#777777", "strokeWidth": 1},
             "encoding": {
               "x": {"datum": -1.08, "type": "quantitative", "scale": {"domain": [-1.08, 28.08], "nice": false, "zero": false}, "axis": {"title": null, "values": [0,5,10,15,20,25], "labelOverlap": false, "labelPadding": 4, "domainDash": [186.0, 1000], "domainDashOffset": 1178.0}},
               "y": {"datum": -1.08, "type": "quantitative", "scale": {"domain": [-1.08, 28.08], "nice": false, "zero": false}, "axis": {"title": null, "values": [0,5,10,15,20,25], "labelAngle": -90, "labelAlign": "center", "labelBaseline": "bottom", "labelOverlap": false, "labelPadding": 2, "domainDash": [146.6, 1000], "domainDashOffset": 1140.3}},
               "x2": {"datum": 28.08}, "y2": {"datum": 28.08}}},
            {"data": {"name": "pts"}, "transform": [{"filter": "datum.panel === 'Sididae' && datum.type === 'filled'"}],
             "mark": {"type": "circle", "size": 72, "fill": "black", "stroke": "black", "strokeWidth": 1, "opacity": 1},
             "encoding": {
               "x": {"field": "bottoms", "type": "quantitative", "scale": {"domain": [-1.08, 28.08], "nice": false, "zero": false}, "axis": {"title": null, "values": [0,5,10,15,20,25], "labelOverlap": false, "labelPadding": 4, "domainDash": [186.0, 1000], "domainDashOffset": 1178.0}},
               "y": {"field": "tops", "type": "quantitative", "scale": {"domain": [-1.08, 28.08], "nice": false, "zero": false}, "axis": {"title": null, "values": [0,5,10,15,20,25], "labelAngle": -90, "labelAlign": "center", "labelBaseline": "bottom", "labelOverlap": false, "labelPadding": 2, "domainDash": [146.6, 1000], "domainDashOffset": 1140.3}}}},
            {"data": {"name": "pts"}, "transform": [{"filter": "datum.panel === 'Sididae' && datum.type === 'open'"}],
             "mark": {"type": "circle", "size": 72, "fill": "white", "stroke": "#666666", "strokeWidth": 1, "opacity": 1},
             "encoding": {
               "x": {"field": "bottoms", "type": "quantitative", "scale": {"domain": [-1.08, 28.08], "nice": false, "zero": false}, "axis": {"title": null, "values": [0,5,10,15,20,25], "labelOverlap": false, "labelPadding": 4, "domainDash": [186.0, 1000], "domainDashOffset": 1178.0}},
               "y": {"field": "tops", "type": "quantitative", "scale": {"domain": [-1.08, 28.08], "nice": false, "zero": false}, "axis": {"title": null, "values": [0,5,10,15,20,25], "labelAngle": -90, "labelAlign": "center", "labelBaseline": "bottom", "labelOverlap": false, "labelPadding": 2, "domainDash": [146.6, 1000], "domainDashOffset": 1140.3}}}},
            {"data": {"name": "one"}, "mark": {"type": "text", "text": "Sididae", "fontSize": 16, "align": "left", "baseline": "alphabetic", "font": "Liberation Sans", "color": "black"},
             "encoding": {
               "x": {"datum": 0.53, "type": "quantitative", "scale": {"domain": [-1.08, 28.08], "nice": false, "zero": false}, "axis": {"title": null, "values": [0,5,10,15,20,25], "labelOverlap": false, "labelPadding": 4, "domainDash": [186.0, 1000], "domainDashOffset": 1178.0}},
               "y": {"datum": 24.16, "type": "quantitative", "scale": {"domain": [-1.08, 28.08], "nice": false, "zero": false}, "axis": {"title": null, "values": [0,5,10,15,20,25], "labelAngle": -90, "labelAlign": "center", "labelBaseline": "bottom", "labelOverlap": false, "labelPadding": 2, "domainDash": [146.6, 1000], "domainDashOffset": 1140.3}}}}
          ]
        }
      ]
    }
  ],
  "config": {
    "font": "Liberation Sans",
    "view": {"stroke": "#888888", "strokeWidth": 1},
    "axis": {"grid": false, "domainColor": "black", "domainWidth": 1, "tickColor": "black", "tickSize": 6, "labelFont": "Liberation Sans", "labelFontSize": 13, "labelColor": "black", "labelFlush": false, "labelOverlap": false}
  }
}
